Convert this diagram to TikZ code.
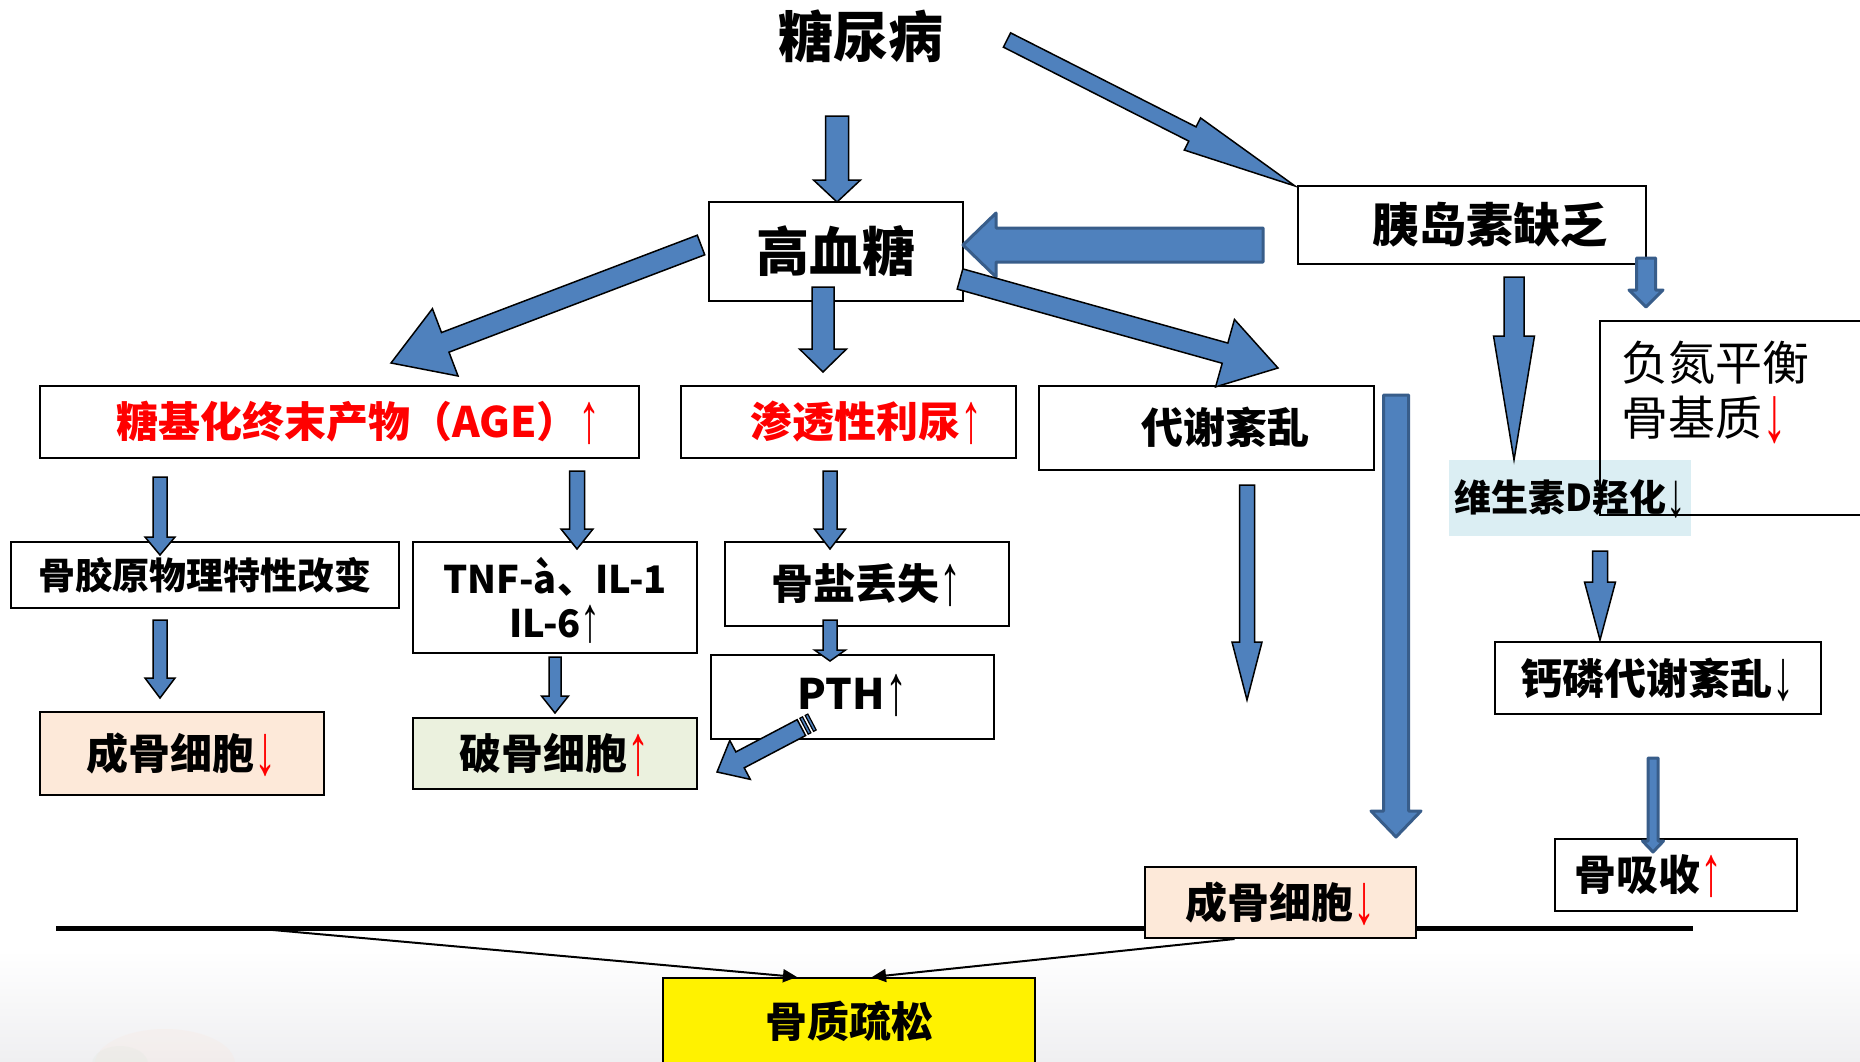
\documentclass[tikz,border=0pt]{standalone}
\usepackage{fontspec}
\usepackage{graphicx}
\setmainfont{Noto Sans CJK SC}
\newfontfamily\arr{Liberation Sans}
\usetikzlibrary{arrows.meta,calc}
\definecolor{ablue}{HTML}{4F81BD}
\definecolor{aline}{HTML}{385D8A}
\definecolor{peach}{HTML}{FDE9D9}
\definecolor{pgreen}{HTML}{EBF1DE}
\definecolor{vdblue}{HTML}{DBEEF3}
\definecolor{bggray}{HTML}{EFEFF1}
\newcommand\fs[1]{\fontsize{#1}{#1}\selectfont}
\newcommand\myup{{\arr\mdseries\smash{\raisebox{-0.12em}{\scalebox{1.05}[1.7]{↑}}}}}
\newcommand\mydn{{\arr\mdseries\smash{\raisebox{-0.12em}{\scalebox{1.05}[1.7]{↓}}}}}
\newcommand\rup{\textcolor{red}{\myup}}
\newcommand\rdn{\textcolor{red}{\mydn}}
\tikzset{
  barrow/.style={fill=ablue, draw=black, line width=1.5pt, line join=miter},
  darrow/.style={fill=ablue, draw=aline, line width=3pt, line join=round},
  box/.style={draw=black, line width=2pt, fill=white, inner sep=0pt, align=center},
  bt/.style={font=\bfseries\fs{42}},
  thinarr/.style={line width=2pt, -{Triangle[length=14pt,width=13pt]}},
}
% #1 style, #2 tail, #3 tip, #4 shaft half width, #5 head half width, #6 head length
\newcommand\blockarrow[6]{%
  \path (#2); \pgfgetlastxy{\bax}{\bay}%
  \path (#3); \pgfgetlastxy{\bbx}{\bby}%
  \pgfmathsetmacro\bang{atan2((\bby)-(\bay),(\bbx)-(\bax))}%
  \pgfmathsetmacro\blen{veclen((\bbx)-(\bax),(\bby)-(\bay))}%
  \pgfmathsetmacro\bneck{\blen-#6}%
  \begin{scope}[shift={(\bax,\bay)},rotate=\bang]
    \filldraw[#1] (0pt,-#4pt) -- (\bneck pt,-#4pt) -- (\bneck pt,-#5pt) -- (\blen pt,0pt)
      -- (\bneck pt,#5pt) -- (\bneck pt,#4pt) -- (0pt,#4pt) -- cycle;
  \end{scope}}
\newcommand\stripearrow[5]{%
  \path (#1); \pgfgetlastxy{\bax}{\bay}%
  \path (#2); \pgfgetlastxy{\bbx}{\bby}%
  \pgfmathsetmacro\bang{atan2((\bby)-(\bay),(\bbx)-(\bax))}%
  \pgfmathsetmacro\blen{veclen((\bbx)-(\bax),(\bby)-(\bay))}%
  \pgfmathsetmacro\bneck{\blen-#5}%
  \begin{scope}[shift={(\bax,\bay)},rotate=\bang]
    \filldraw[barrow,line width=1.2pt] (0pt,-#3pt) -- (3pt,-#3pt) -- (3pt,#3pt) -- (0pt,#3pt) -- cycle;
    \filldraw[barrow,line width=1.2pt] (6pt,-#3pt) -- (9pt,-#3pt) -- (9pt,#3pt) -- (6pt,#3pt) -- cycle;
    \filldraw[barrow] (12pt,-#3pt) -- (\bneck pt,-#3pt) -- (\bneck pt,-#4pt) -- (\blen pt,0pt)
      -- (\bneck pt,#4pt) -- (\bneck pt,#3pt) -- (12pt,#3pt) -- cycle;
  \end{scope}}
\begin{document}
\begin{tikzpicture}[x=1pt,y=-1pt]
\useasboundingbox (0,0) rectangle (1860,1061);
\fill[white] (0,0) rectangle (1860,1061);
\shade[top color=white, bottom color=bggray] (0,950) rectangle (1860,1061);
\fill[red!30!orange!20, opacity=0.15] (165,1064) ellipse (70pt and 35pt);
\fill[green!30!gray!30, opacity=0.12] (120,1064) ellipse (28pt and 18pt);

% horizontal bar
\coordinate (hl) at (56,928);
\coordinate (hr) at (1693,928);
\draw[line width=5pt] (hl) -- (hr);

% title
\node[font=\bfseries\fs{55}, inner sep=0pt] (tnb) at (861,36) {糖尿病};

% boxes
\node[box, minimum width=254pt, minimum height=99pt, font=\bfseries\fs{53}] (gxt) at (836,251.5) {\raisebox{6pt}{高血糖}};
\node[box, minimum width=348pt, minimum height=78pt, font=\bfseries\fs{47}] (yds) at (1472,225) {\hspace*{36pt}胰岛素缺乏};
\node[box, minimum width=599pt, minimum height=72pt, bt, text=red] (age) at (339.5,422) {\hspace*{38pt}糖基化终末产物（AGE）\myup};
\node[box, minimum width=335pt, minimum height=72pt, bt, text=red] (stx) at (848.5,422) {\hspace*{36pt}渗透性利尿\myup};
\node[box, minimum width=335pt, minimum height=84pt, bt] (dx) at (1206.5,428) {\hspace*{38pt}\raisebox{6pt}{代谢紊乱}};
\node[box, minimum width=388pt, minimum height=66pt, font=\bfseries\fs{37}] (gjy) at (205,575) {骨胶原物理特性改变};
\node[box, minimum width=284pt, minimum height=111pt, font=\bfseries\fontsize{38}{44}\selectfont] (tnf) at (555,597.5) {TNF-à、IL-1\\IL-6\myup};
\node[box, minimum width=284pt, minimum height=84pt, bt] (gy) at (867,584) {\raisebox{5pt}{骨盐丢失\myup}};
\node[box, minimum width=283pt, minimum height=84pt, bt] (pth) at (852.5,697) {\raisebox{6pt}{PTH\myup}};
\node[box, minimum width=284pt, minimum height=83pt, bt, fill=peach] (cg1) at (182,753.5) {成骨细胞\rdn};
\node[box, minimum width=284pt, minimum height=71pt, bt, fill=pgreen] (pg) at (555,753.5) {破骨细胞\rup};

% vitamin D (no border) and negative nitrogen box
\node[fill=vdblue, minimum width=242pt, minimum height=76pt, inner sep=0pt, font=\bfseries\fs{37}] (vd) at (1570,498) {维生素D羟化\mydn};
\node[anchor=west, align=left, inner sep=0pt, font=\fontsize{47}{55}\selectfont] (fd) at (1621,390) {负氮平衡\\骨基质\rdn};
\coordinate (fdtr) at (1860,321);
\coordinate (fdbr) at (1860,515);
\draw[line width=2pt] (fdtr) -| (1600,515) -- (fdbr);

\node[box, minimum width=326pt, minimum height=72pt, bt] (gl) at (1658,678) {钙磷代谢紊乱\mydn};
\node[box, minimum width=242pt, minimum height=72pt, bt] (gx) at (1676,875) {骨吸收\rup\hspace*{54pt}};
\node[box, minimum width=271pt, minimum height=71pt, bt, fill=peach] (cg2) at (1280.5,902.5) {成骨细胞\rdn};
\node[box, minimum width=372pt, minimum height=86pt, bt, fill=yellow] (gzss) at (849,1021) {骨质疏松};

% thin connectors to osteoporosis
\coordinate (lstart) at (273,930);
\draw[thinarr] (lstart) -- ([xshift=-52pt]gzss.north);
\draw[thinarr] ([xshift=-46pt]cg2.south) -- ([xshift=23pt]gzss.north);

% block arrow end points
\coordinate (a1s) at (837,116);   \coordinate (a1e) at (837,202);
\coordinate (a2s) at (1007,40);   \coordinate (a2e) at (1295,186);
\coordinate (a3s) at (1263,245);  \coordinate (a3e) at (963,245);
\coordinate (a4s) at (701,245);   \coordinate (a4e) at (391,363);
\coordinate (a5s) at (823,287);   \coordinate (a5e) at (823,372);
\coordinate (a6s) at (960,279);   \coordinate (a6e) at (1278,368);
\coordinate (a7s) at (1396,395);  \coordinate (a7e) at (1396,837);
\coordinate (a8s) at (1247,485);  \coordinate (a8e) at (1247,700);
\coordinate (a9s) at (1514,277);  \coordinate (a9e) at (1514,460);
\coordinate (a10s) at (1646,258); \coordinate (a10e) at (1646,307);
\coordinate (a11s) at (1600,551); \coordinate (a11e) at (1600,640);
\coordinate (a12s) at (1653,758); \coordinate (a12e) at (1653,852);
\coordinate (a13s) at (160,477);  \coordinate (a13e) at (160,555);
\coordinate (a14s) at (160,620);  \coordinate (a14e) at (160,698);
\coordinate (a15s) at (577,471);  \coordinate (a15e) at (577,549);
\coordinate (a16s) at (555,657);  \coordinate (a16e) at (555,713);
\coordinate (a17s) at (830,471);  \coordinate (a17e) at (830,549);
\coordinate (a18s) at (830,620);  \coordinate (a18e) at (830,661);
\coordinate (a19s) at (812,722);  \coordinate (a19e) at (717,772);

\blockarrow{barrow}{a1s}{a1e}{11.5}{23.5}{22}
\blockarrow{barrow}{a2s}{a2e}{8}{18}{115}
\blockarrow{darrow}{a3s}{a3e}{17}{32}{33}
\blockarrow{barrow}{a4s}{a4e}{10.5}{36}{58}
\blockarrow{barrow}{a5s}{a5e}{11}{23.5}{23}
\blockarrow{barrow}{a6s}{a6e}{10.5}{35}{55}
\blockarrow{darrow}{a7s}{a7e}{12.5}{25}{26}
\blockarrow{barrow}{a8s}{a8e}{7.5}{15}{58}
\blockarrow{barrow}{a9s}{a9e}{10}{20.5}{124}
\blockarrow{darrow}{a10s}{a10e}{9.5}{17}{17}
\blockarrow{barrow}{a11s}{a11e}{7.5}{15.5}{58}
\blockarrow{darrow}{a12s}{a12e}{5}{10.5}{11}
\blockarrow{barrow}{a13s}{a13e}{7}{15}{18}
\blockarrow{barrow}{a14s}{a14e}{7}{15}{20}
\blockarrow{barrow}{a15s}{a15e}{7.5}{16}{20}
\blockarrow{barrow}{a16s}{a16e}{6}{13.5}{17}
\blockarrow{barrow}{a17s}{a17e}{7}{15.5}{20}
\blockarrow{barrow}{a18s}{a18e}{7}{15.5}{11}
\stripearrow{a19s}{a19e}{9}{22}{26}
\end{tikzpicture}
\end{document}
